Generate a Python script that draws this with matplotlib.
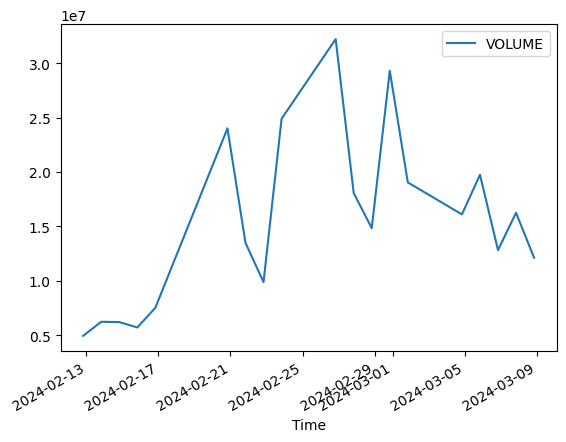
import pandas as pd
import matplotlib
matplotlib.use('Agg')
import matplotlib.pyplot as plt

# trading sessions (timestamps sit a few hours before midnight of each day)
dates = ['2024-02-12 20:00', '2024-02-13 20:00', '2024-02-14 20:00',
         '2024-02-15 20:00', '2024-02-16 20:00', '2024-02-20 20:00',
         '2024-02-21 20:00', '2024-02-22 20:00', '2024-02-23 20:00',
         '2024-02-26 20:00', '2024-02-27 20:00', '2024-02-28 20:00',
         '2024-02-29 20:00', '2024-03-01 20:00', '2024-03-04 20:00',
         '2024-03-05 20:00', '2024-03-06 20:00', '2024-03-07 20:00',
         '2024-03-08 20:00']
volume = [4.96e6, 6.25e6, 6.22e6, 5.73e6, 7.53e6, 24.01e6, 13.50e6, 9.89e6,
          24.89e6, 32.21e6, 18.07e6, 14.85e6, 29.30e6, 19.05e6, 16.11e6,
          19.75e6, 12.83e6, 16.26e6, 12.13e6]

df = pd.DataFrame({'VOLUME': volume}, index=pd.to_datetime(dates))
df.index.name = 'Time'

fig, ax = plt.subplots(figsize=(6.4, 4.8), dpi=100)
ax.plot(df.index.to_pydatetime(), df['VOLUME'], color='#1f77b4', label='VOLUME')
ax.set_xlabel('Time')
ax.legend(loc='upper right')
fig.autofmt_xdate()

plt.savefig('out.png', dpi=100, bbox_inches='tight')
